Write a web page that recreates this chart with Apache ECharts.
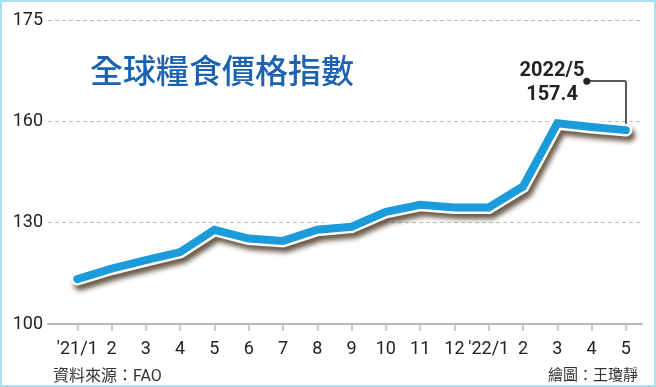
<!DOCTYPE html>
<html>
<head>
<meta charset="utf-8">
<script src="https://cdn.jsdelivr.net/npm/echarts@6/dist/echarts.min.js"></script>
<style>
html,body{margin:0;padding:0;background:#fff;}
#c{width:656px;height:387px;position:relative;}
#frame{position:absolute;left:0;top:0;width:656px;height:387px;box-sizing:border-box;border:2px solid #a9def5;pointer-events:none;}
</style>
</head>
<body>
<div id="c"></div>
<div id="frame"></div>
<script>
// ---- data ----
const titleText = '全球糧食價格指數';
const sourceText = '資料來源：FAO';
const creditText = '繪圖：王瓊靜';
const monthLabels = ["'21/1","2","3","4","5","6","7","8","9","10","11","12","'22/1","2","3","4","5"];
const indexValues = [113.3,116.4,118.9,121.3,127.9,125.3,124.6,127.9,128.8,133.2,135.3,134.5,134.5,140.7,159.4,158.3,157.4];
const yTickValues = [100,130,160,190];
const yTickLabels = ['100','130','160','175'];
const lastLabelDate = '2022/5';

const font = 'Roboto, "Noto Sans CJK TC", sans-serif';
const monthIdx = monthLabels.map((_, i) => i);
const seriesData = monthLabels.map((_, i) => [i, indexValues[i]]);
const lastIdx = monthLabels.length - 1;
const lastVal = indexValues[lastIdx];
const leaderY = 171.9;   // annotation leader height (value space)
const leaderX = 14.86;   // annotation dot position (index space)

const chart = echarts.init(document.getElementById('c'), null, {renderer: 'canvas'});
chart.setOption({
  backgroundColor: '#ffffff',
  animation: false,
  title: [
    {text: titleText, left: 85, top: 49,
     textStyle: {fontFamily: '"Noto Sans CJK TC", sans-serif', fontSize: 33, fontWeight: 500, color: '#1b62b0'}},
    {text: lastLabelDate + '\n' + lastVal.toFixed(1), left: 547, top: 54, textAlign: 'center',
     textStyle: {fontFamily: font, fontSize: 20, fontWeight: 'bold', color: '#222', lineHeight: 24, align: 'center'}},
    {text: sourceText, left: 48, top: 364,
     textStyle: {fontFamily: font, fontSize: 16, fontWeight: 'normal', color: '#333'}},
    {text: creditText, right: 13, top: 364,
     textStyle: {fontFamily: font, fontSize: 15, fontWeight: 'normal', color: '#333'}}
  ],
  grid: {left: 48, right: 14, top: 20, bottom: 63},
  xAxis: {
    type: 'value', min: -0.854, max: 16.47,
    axisLine: {show: true, lineStyle: {color: '#b8b8b8', width: 2}},
    axisTick: {show: true, customValues: monthIdx, length: 7, lineStyle: {color: '#b8b8b8', width: 1.5}},
    axisLabel: {show: true, customValues: monthIdx, margin: 17, fontFamily: font, fontSize: 18, color: '#222',
      formatter: v => monthLabels[Math.round(v)]},
    splitLine: {show: false}
  },
  yAxis: {
    type: 'value', min: 100, max: 190, interval: 30,
    axisLine: {show: false}, axisTick: {show: false},
    axisLabel: {margin: 5, fontFamily: font, fontSize: 18, color: '#222',
      formatter: v => { const k = yTickValues.indexOf(v); return k >= 0 ? yTickLabels[k] : ''; }},
    splitLine: {show: true, lineStyle: {color: '#bdbdbd', width: 1, type: [4, 3]}}
  },
  series: [
    {
      type: 'line', data: seriesData, symbol: 'none', z: 2,
      lineStyle: {color: '#ffffff', width: 13, cap: 'round', join: 'miter',
        shadowColor: 'rgba(70,50,30,0.8)', shadowBlur: 5, shadowOffsetX: 3, shadowOffsetY: 5},
      markLine: {
        silent: true, symbol: ['none', 'none'], z: 1,
        lineStyle: {color: '#222', width: 1.5, type: 'solid'},
        label: {show: false},
        data: [
          [{coord: [lastIdx, lastVal]}, {coord: [lastIdx, leaderY]}],
          [{coord: [lastIdx, leaderY]}, {coord: [leaderX, leaderY], symbol: 'circle', symbolSize: 7}]
        ]
      }
    },
    {
      type: 'line', data: seriesData, symbol: 'none', z: 3,
      lineStyle: {color: '#1b9bd9', width: 8, cap: 'round', join: 'miter'}
    }
  ]
});
</script>
</body>
</html>
